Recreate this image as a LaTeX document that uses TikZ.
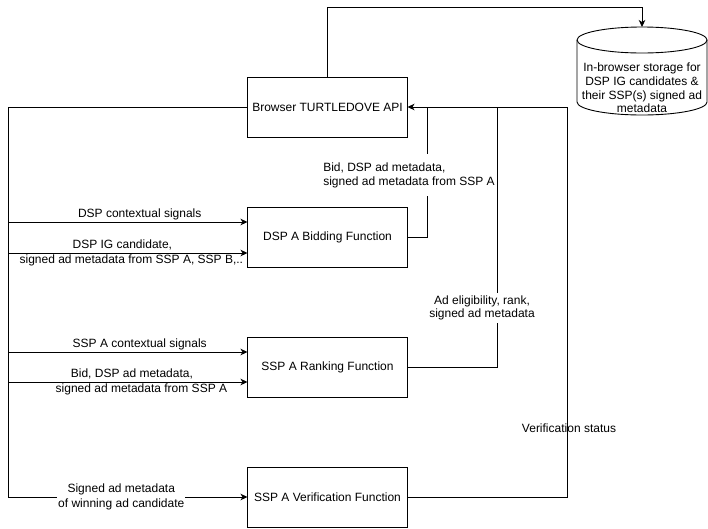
\documentclass[tikz,border=0pt]{standalone}
\usepackage{fontspec}
\setmainfont{Liberation Sans}
\usetikzlibrary{arrows.meta,positioning}
\tikzset{
  block/.style={
    draw,
    line width=0.9pt,
    outer sep=0pt,
    minimum width=160pt,
    minimum height=60pt,
    font=\fontsize{12}{14}\selectfont
  },
  tag/.style={
    align=center,
    inner sep=1pt,
    font=\fontsize{12}{15.5}\selectfont
  },
  tagbg/.style={
    tag,
    fill=white
  },
  wire/.style={
    line width=0.9pt
  },
  flow/.style={
    -{Stealth[length=7pt,width=6.5pt,inset=2pt]},
    line width=0.9pt
  }
}

\begin{document}
\begin{tikzpicture}[x=1pt,y=1pt,node distance=70pt]
  \useasboundingbox (0,0) rectangle (708,-528);

  \node[block] (browser) at (327.5,-107) {Browser TURTLEDOVE API};
  \node[block, below=of browser] (bid) {DSP A Bidding Function};
  \node[block, below=of bid] (rank) {SSP A Ranking Function};
  \node[block, below=of rank] (verify) {SSP A Verification Function};

  % storage cylinder
  \draw[wire] (577,-40) -- (577,-102) arc[start angle=180, end angle=360, x radius=65pt, y radius=13pt] -- (707,-40);
  \draw[wire] (642,-40) ellipse[x radius=65pt, y radius=13pt];
  \node[tag, font=\fontsize{12}{13.8}\selectfont] (store) at (642,-88) {In-browser storage for\\DSP IG candidates \&\\their SSP(s) signed ad\\metadata};
  \coordinate (storetop) at (642,-27);
  \coordinate (bus) at (8,-497);

  \draw[flow] (browser.north) -- ++(0,70) -| (storetop);

  % inputs from the browser
  \draw[flow] (browser.west) -| (bus) -- node[tagbg, pos=0.473] (verifyin) {Signed ad metadata\\of winning ad candidate} (verify.west);
  \draw[flow] ([yshift=15pt]bid.west -| bus) -- node[tag, above=1pt, pos=0.55] (dspctx) {DSP contextual signals} ([yshift=15pt]bid.west);
  \draw[flow] ([yshift=-16pt]bid.west -| bus) -- node[tag, pos=0.515] (dspig) {DSP IG candidate,\hspace*{18pt}\\signed ad metadata from SSP A, SSP B,..} ([yshift=-16pt]bid.west);
  \draw[flow] ([yshift=15pt]rank.west -| bus) -- node[tag, above=1pt, pos=0.55] (sspctx) {SSP A contextual signals} ([yshift=15pt]rank.west);
  \draw[flow] ([yshift=-15pt]rank.west -| bus) -- node[tag, pos=0.557] (rankin) {Bid, DSP ad metadata,\hspace*{19pt}\\signed ad metadata from SSP A} ([yshift=-15pt]rank.west);

  % outputs back to the browser
  \draw[wire] (bid.east) -| ([xshift=20pt]browser.east);
  \draw[wire] (rank.east) -| ([xshift=90pt]browser.east);
  \draw[flow] (verify.east) -| ([xshift=160pt]browser.east) -- (browser.east);

  \node[tagbg, align=left, font=\fontsize{12}{14}\selectfont, inner ysep=8pt] (bidout) at (409,-175) {Bid, DSP ad metadata,\\signed ad metadata from SSP A};
  \node[tagbg, font=\fontsize{12}{13.5}\selectfont, inner ysep=3pt] (rankout) at (482,-308) {Ad eligibility, rank,\\signed ad metadata};
  \node[tag] (verifyout) at (569,-428) {Verification status};
\end{tikzpicture}
\end{document}
